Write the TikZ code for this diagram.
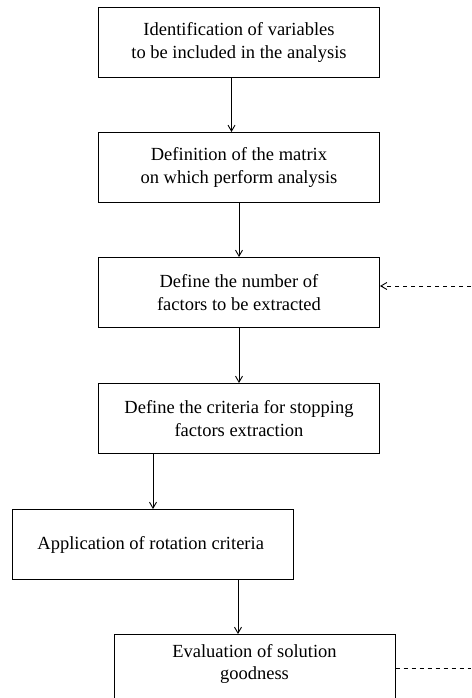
\documentclass[tikz,border=0pt]{standalone}
\usepackage{fontspec}
\setmainfont{Liberation Serif}
\usetikzlibrary{arrows.meta, positioning, calc}

\begin{document}
\begin{tikzpicture}[
  x=1pt, y=1pt,
  stepbox/.style={
    rectangle,
    draw,
    line width=1pt,
    minimum width=281pt,
    minimum height=70pt,
    inner sep=0pt,
    align=center
  },
  every node/.style={font=\fontsize{18.5}{22.5}\selectfont},
  arrow/.style={-{Straight Barb[length=6pt,width=7pt]}, line width=0.9pt},
  dashedarrow/.style={-{Straight Barb[length=6pt,width=7pt]}, line width=0.9pt, dash pattern=on 4pt off 4pt},
  dashedline/.style={line width=0.9pt, dash pattern=on 4pt off 4pt}
]

\useasboundingbox (0,0) rectangle (471,-698);
\clip (0,0) rectangle (471,-698);

% ============================================================
% Steps of the analysis
% ============================================================

\node[stepbox, anchor=north west] (ident) at (98,-7) {
Identification of variables\\
to be included in the analysis
};

\node[stepbox, below=54pt of ident] (matrix) {
Definition of the matrix\\
on which perform analysis
};

\node[stepbox, below=54pt of matrix] (nfactors) {
Define the number of\\
factors to be extracted
};

\node[stepbox, below=55pt of nfactors] (stopping) {
Define the criteria for stopping\\
factors extraction
};

\node[stepbox, below=55pt of stopping, xshift=-86pt] (rotation) {
Application of rotation criteria
};

\node[stepbox, below=54pt of rotation, xshift=101.5pt, text depth=15pt] (goodness) {
Evaluation of solution\\
goodness
};

% ============================================================
% Arrows between steps
% ============================================================

\draw[arrow] ([xshift=-7.5pt]ident.south) -- ([xshift=-7.5pt]matrix.north);
\draw[arrow] (matrix) -- (nfactors);
\draw[arrow] (nfactors) -- (stopping);
\draw[arrow] (rotation.north |- stopping.south) -- (rotation.north);
\draw[arrow] ([xshift=-16.5pt]goodness.north |- rotation.south) -- ([xshift=-16.5pt]goodness.north);

% ============================================================
% Feedback loop (dashed)
% ============================================================

\coordinate (loopin) at (471,-286);
\coordinate (loopout) at (471,-668);

\draw[dashedarrow] (loopin) -- (loopin -| nfactors.east);
\draw[dashedline] (goodness.east |- loopout) -- (loopout);

\end{tikzpicture}
\end{document}
